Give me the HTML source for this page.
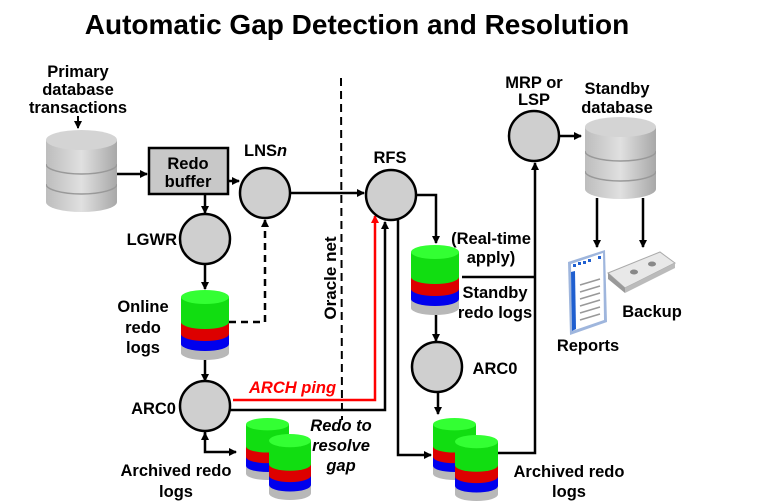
<!DOCTYPE html>
<html><head><meta charset="utf-8"><style>
body{margin:0;background:#fff}
svg{display:block}
text{font-family:"Liberation Sans",sans-serif;font-weight:bold;fill:#000}
</style></head><body>
<svg width="762" height="503" viewBox="0 0 762 503" xmlns="http://www.w3.org/2000/svg">
<defs>
<marker id="a" markerWidth="8" markerHeight="8" refX="7" refY="4" orient="auto" markerUnits="userSpaceOnUse"><path d="M0,0 L8,4 L0,8 Z" fill="#000"/></marker>
<marker id="r" markerWidth="8" markerHeight="8" refX="7" refY="4" orient="auto" markerUnits="userSpaceOnUse"><path d="M0,0 L8,4 L0,8 Z" fill="#f00"/></marker>
<linearGradient id="g" x1="0" x2="1"><stop offset="0" stop-color="#bdbdbd"/><stop offset=".5" stop-color="#e0e0e0"/><stop offset="1" stop-color="#a8a8a8"/></linearGradient>
<symbol id="cc" viewBox="0 0 48 70" preserveAspectRatio="none">
<path d="M0 54 L0 63 A24 7 0 0 0 48 63 L48 54Z" fill="#b8b8b8"/>
<path d="M0 44 L0 54 A24 7 0 0 0 48 54 L48 44Z" fill="#0000ee"/>
<path d="M0 32 L0 44 A24 7 0 0 0 48 44 L48 32Z" fill="#dd0000"/>
<path d="M0 7 L0 32 A24 7 0 0 0 48 32 L48 7Z" fill="#11dd11"/>
<ellipse cx="24" cy="7" rx="24" ry="7" fill="#33ff33"/>
</symbol>
<symbol id="db" viewBox="0 0 71 82" preserveAspectRatio="none">
<path d="M0 10 L0 72 A35.5 10 0 0 0 71 72 L71 10Z" fill="url(#g)"/>
<path d="M0 34 A35.5 10 0 0 0 71 34 M0 54 A35.5 10 0 0 0 71 54" fill="none" stroke="#999" stroke-width="1.5"/>
<ellipse cx="35.5" cy="10" rx="35.5" ry="10" fill="#d4d4d4"/>
</symbol>
</defs>

<text x="357" y="34" font-size="28" text-anchor="middle">Automatic Gap Detection and Resolution</text>

<g font-size="16.5" text-anchor="middle">
<text x="78" y="77">Primary</text><text x="78" y="95">database</text><text x="78" y="113">transactions</text>
<text x="143" y="312">Online</text><text x="143" y="333">redo</text><text x="143" y="353">logs</text>
<text x="176" y="476">Archived redo</text><text x="176" y="497">logs</text>
<text x="617" y="94">Standby</text><text x="617" y="113">database</text>
<text x="534" y="88">MRP or</text><text x="534" y="105">LSP</text>
<text x="491" y="244">(Real-time</text><text x="491" y="263">apply)</text>
<text x="495" y="298">Standby</text><text x="495" y="318">redo logs</text>
<text x="588" y="351">Reports</text>
<text x="652" y="317">Backup</text>
<text x="569" y="477">Archived redo</text><text x="569" y="497">logs</text>
<text x="390" y="163">RFS</text>
<text x="495" y="374">ARC0</text>
</g>
<text x="177" y="245" font-size="16.5" text-anchor="end">LGWR</text>
<text x="176" y="414" font-size="16.5" text-anchor="end">ARC0</text>
<text x="244" y="156" font-size="16.5">LNS<tspan font-style="italic">n</tspan></text>
<text x="249" y="393" font-size="16.5" font-style="italic" style="fill:#f00">ARCH ping</text>
<g font-size="16.5" font-style="italic" text-anchor="middle"><text x="341" y="431">Redo to</text><text x="341" y="451">resolve</text><text x="341" y="471">gap</text></g>
<text transform="translate(336,278) rotate(-90)" font-size="17" text-anchor="middle">Oracle net</text>

<line x1="341" y1="78" x2="342" y2="420" stroke="#000" stroke-width="2" stroke-dasharray="8,5"/>

<line x1="78" y1="116" x2="78" y2="128" stroke="#000" stroke-width="2" marker-end="url(#a)"/>
<use href="#db" x="46" y="130" width="71" height="82"/>
<use href="#db" x="585" y="117" width="71" height="82"/>

<rect x="149" y="148" width="79" height="46" fill="#c8c8c8" stroke="#000" stroke-width="2.5"/>
<text x="188" y="169" font-size="16.5" text-anchor="middle">Redo</text>
<text x="188" y="187" font-size="16.5" text-anchor="middle">buffer</text>

<g stroke="#000" stroke-width="2.5" fill="none">
<line x1="117" y1="174" x2="147" y2="174" marker-end="url(#a)"/>
<line x1="228" y1="181" x2="239" y2="181" marker-end="url(#a)"/>
<line x1="205" y1="194" x2="205" y2="213" marker-end="url(#a)"/>
<line x1="205" y1="264" x2="205" y2="289" marker-end="url(#a)"/>
<line x1="205" y1="360" x2="205" y2="381" marker-end="url(#a)"/>
<path d="M229 322 H265 V220" stroke-dasharray="7,5" marker-end="url(#a)"/>
<line x1="290" y1="193" x2="364" y2="193" marker-end="url(#a)"/>
<path d="M205 432 V452 H236" marker-end="url(#a)"/>
<line x1="205" y1="440" x2="205" y2="433" marker-end="url(#a)"/>
<path d="M230 410 H385 V222" marker-end="url(#a)"/>
<path d="M416 195 H436 V243" marker-end="url(#a)"/>
<path d="M398 220 V455 H431" marker-end="url(#a)"/>
<line x1="436" y1="315" x2="436" y2="341" marker-end="url(#a)"/>
<line x1="438" y1="393" x2="438" y2="414" marker-end="url(#a)"/>
<path d="M462 277 H535"/>
<path d="M498 453 H535 V163" marker-end="url(#a)"/>
<line x1="559" y1="136" x2="581" y2="136" marker-end="url(#a)"/>
<line x1="597" y1="198" x2="597" y2="247" marker-end="url(#a)"/>
<line x1="643" y1="198" x2="643" y2="247" marker-end="url(#a)"/>
</g>
<path d="M233 400 H375 V216" stroke="#f00" stroke-width="2.5" fill="none" marker-end="url(#r)"/>

<g fill="#cfcfcf" stroke="#000" stroke-width="2.5">
<circle cx="265" cy="193" r="25"/>
<circle cx="205" cy="239" r="25"/>
<circle cx="205" cy="406" r="25"/>
<circle cx="391" cy="195" r="25"/>
<circle cx="534" cy="136" r="25"/>
<circle cx="437" cy="367" r="25"/>
</g>

<use href="#cc" x="181" y="290" width="48" height="70"/>
<use href="#cc" x="411" y="245" width="48" height="70"/>
<use href="#cc" x="246" y="418" width="43" height="62"/>
<use href="#cc" x="269" y="434" width="42" height="66"/>
<use href="#cc" x="433" y="418" width="43" height="62"/>
<use href="#cc" x="455" y="435" width="43" height="66"/>

<g>
<path d="M568 262 L605 250 L607 322 L570 335 Z" fill="#9fb6dd"/>
<path d="M571 264 L603 253 L604 320 L572 331 Z" fill="#fff"/>
<path d="M571 272 L575 271 L576 329 L572 331 Z" fill="#1f5fd0"/>
<g fill="#1f5fd0"><rect x="573" y="264" width="3" height="3"/><rect x="578" y="262" width="3" height="3"/><rect x="583" y="261" width="3" height="3"/><rect x="588" y="259" width="3" height="3"/><rect x="598" y="256" width="3" height="3"/></g>
<g stroke="#999" stroke-width="1.5"><line x1="580" y1="285" x2="600" y2="279"/><line x1="580" y1="292" x2="600" y2="286"/><line x1="580" y1="299" x2="600" y2="293"/><line x1="580" y1="306" x2="600" y2="300"/><line x1="580" y1="313" x2="600" y2="307"/><line x1="580" y1="320" x2="600" y2="314"/></g>
</g>
<g>
<path d="M608 273 L660 252 L675 263 L625 288 Z" fill="#e8e8e8" stroke="#aaa"/>
<path d="M608 273 L625 288 L625 293 L608 279 Z" fill="#999"/>
<path d="M625 288 L675 263 L675 268 L625 293 Z" fill="#bbb"/>
<ellipse cx="634" cy="272" rx="4" ry="2.5" fill="#888"/>
<ellipse cx="652" cy="264" rx="4" ry="2.5" fill="#888"/>
</g>
</svg>
</body></html>
